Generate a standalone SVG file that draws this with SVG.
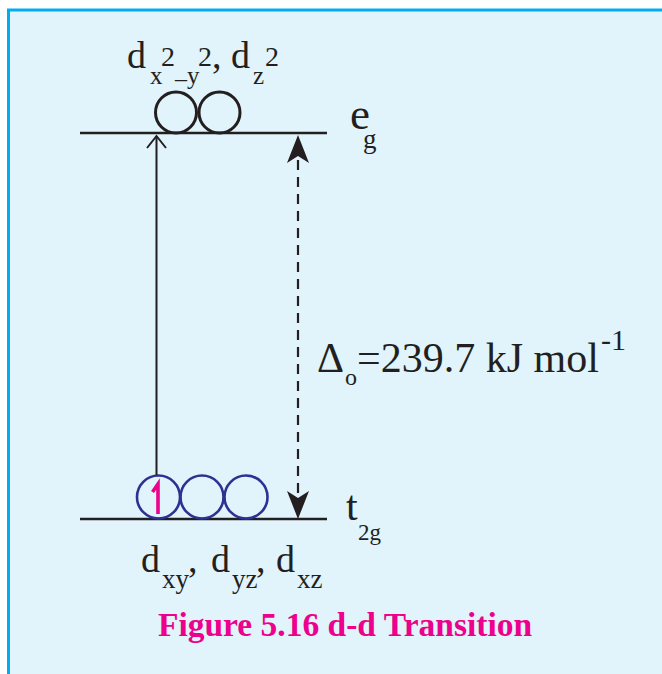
<svg xmlns="http://www.w3.org/2000/svg" width="662" height="674" viewBox="0 0 662 674">
  <style>
    .lvl { stroke: #231F20; stroke-width: 2.5; fill: none; }
    .orbK { stroke: #231F20; stroke-width: 3; fill: none; }
    .orbB { stroke: #2E3192; stroke-width: 2.6; fill: none; }
    .t { font-family: "Liberation Serif", "Times New Roman", serif; fill: #231F20; }
    .cap { font-family: "Liberation Serif", "Times New Roman", serif; font-weight: bold; fill: #EC008C; }
  </style>
  <rect x="0" y="0" width="662" height="674" fill="#FFFFFF"/>
  <g id="frame">
    <rect x="8.5" y="10" width="720" height="720" fill="#E1F3FB" stroke="#00AEEF" stroke-width="3"/>
  </g>

  <g id="eg-level">
    <line class="lvl" x1="80" y1="133" x2="327" y2="133"/>
    <circle class="orbK" cx="176" cy="112.5" r="20.5"/>
    <circle class="orbK" cx="219.5" cy="112.5" r="20.5"/>
    <text class="t" font-size="38"><tspan x="127" y="68">d</tspan><tspan x="150" y="84" font-size="25">x</tspan><tspan x="161" y="66" font-size="28">2</tspan><tspan x="175" y="86" font-size="24">–</tspan><tspan x="187" y="84" font-size="25">y</tspan><tspan x="198" y="66" font-size="28">2</tspan><tspan x="212" y="68">,</tspan><tspan x="231" y="68">d</tspan><tspan x="253" y="84" font-size="25">z</tspan><tspan x="265" y="66" font-size="28">2</tspan></text>
    <text class="t" font-size="45"><tspan x="350" y="129">e</tspan><tspan x="363" y="148" font-size="27">g</tspan></text>
  </g>

  <g id="t2g-level">
    <line class="lvl" x1="80" y1="519" x2="327" y2="519"/>
    <circle class="orbB" cx="158.5" cy="497" r="21.5"/>
    <circle class="orbB" cx="202" cy="497" r="21.5"/>
    <circle class="orbB" cx="246" cy="497" r="21.5"/>
    <path d="M158,514 L158,484 L152.5,492" fill="none" stroke="#EC008C" stroke-width="3.6" stroke-linejoin="miter"/>
    <text class="t" font-size="42"><tspan x="346" y="520">t</tspan><tspan x="358" y="540" font-size="23">2g</tspan></text>
    <text class="t" font-size="38"><tspan x="141" y="572">d</tspan><tspan x="162" y="588" font-size="27">xy</tspan><tspan x="188" y="572">,</tspan><tspan x="211" y="572">d</tspan><tspan x="232" y="588" font-size="27">yz</tspan><tspan x="256" y="572">,</tspan><tspan x="276" y="572">d</tspan><tspan x="297" y="588" font-size="27">xz</tspan></text>
  </g>

  <g id="connectors">
    <line x1="156.5" y1="475" x2="156.5" y2="136" stroke="#231F20" stroke-width="2"/>
    <polyline points="147,148 156.5,136 166,148" fill="none" stroke="#231F20" stroke-width="2"/>
    <line x1="298" y1="160" x2="298" y2="496" stroke="#231F20" stroke-width="2.2" stroke-dasharray="10 7"/>
    <polygon points="298,135 309,163 298,156 287,163" fill="#231F20"/>
    <polygon points="298,519 309,491 298,498 287,491" fill="#231F20"/>
  </g>

  <g id="delta-label">
    <text class="t" font-size="42"><tspan x="317" y="372">Δ</tspan><tspan x="345" y="385" font-size="24">o</tspan><tspan x="357" y="372">=239.7 kJ mol</tspan><tspan x="601" y="350" font-size="30">-1</tspan></text>
  </g>

  <g id="caption">
    <text class="cap" font-size="33.5" x="345" y="636" text-anchor="middle">Figure 5.16 d-d Transition</text>
  </g>
</svg>
